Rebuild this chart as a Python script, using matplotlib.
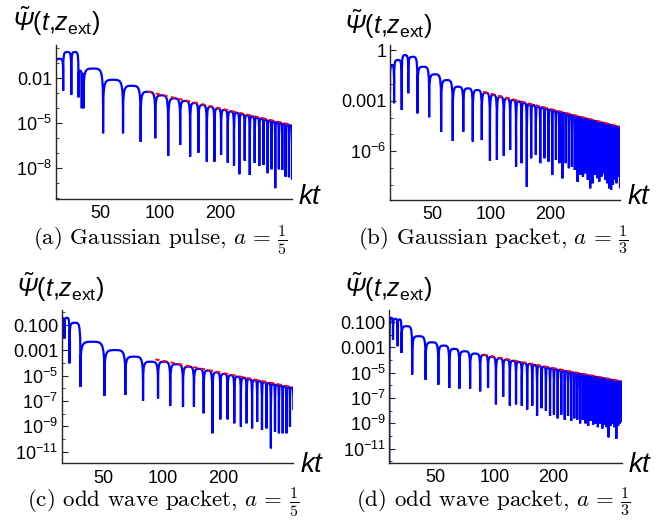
import numpy as np
import matplotlib
matplotlib.use("Agg")
import matplotlib.pyplot as plt
from matplotlib.path import Path
from matplotlib.patches import PathPatch
from matplotlib.ticker import FixedLocator, FixedFormatter, NullLocator, NullFormatter

plt.rcParams['font.family'] = ['Liberation Sans', 'DejaVu Sans']
plt.rcParams['mathtext.fontset'] = 'custom'
plt.rcParams['mathtext.rm'] = 'Liberation Sans'
plt.rcParams['mathtext.it'] = 'Liberation Sans:italic'
plt.rcParams['mathtext.bf'] = 'Liberation Sans:bold'
plt.rcParams['mathtext.sf'] = 'Liberation Sans:italic'  # used for the italic capital Psi

# dips of |psi| (kt position, log10 depth) and arch tops between dips (log10)

# (a) Gaussian pulse, a = 1/5
a_zeros = [29.8, 32.5, 35.7, 38.8, 40.3, 41.2, 51.6, 65.0, 79.7, 94.4, 109.7,
           126, 141.4, 155.6, 171.5, 187.3, 202.3, 218.6, 235, 250, 266, 282,
           298.6, 315, 331, 347, 363, 379, 395, 411, 427, 444, 460]
a_dips = [-1.56, -2.83, -3.1, -3.27, -4.0, -4.0, -5.67, -5.67, -6.23, -6.0, -7.18,
          -6.45, -7.22, -6.96, -7.56, -7.56, -7.11, -7.63, -7.83, -8.4, -7.49, -8.45,
          -7.63, -7.84, -7.78, -8.33, -8.07, -9.33, -8.07, -8.11, -8.56, -8.6, -8.78]
a_peaks = [-0.7, -0.25, -0.25, -1.5, -1.7, -1.35, -2.1, -2.5, -2.9, -3.14,
           -3.34, -3.51, -3.65, -3.78, -3.9, -4.01, -4.11, -4.21, -4.3, -4.38, -4.46,
           -4.54, -4.61, -4.68, -4.75, -4.81, -4.87, -4.92, -4.98, -5.03, -5.08, -5.13]
a_red_t = [87, 460]
a_red = [-2.90, -5.11]

# (b) Gaussian packet, a = 1/3
b_zeros = [30.5, 32.0, 35.0, 37.8, 42.1, 48.3, 55.6, 63.7, 72.1, 80.6, 89.6, 98.6, 107, 116,
           125, 134, 143, 152, 160, 169, 178, 187, 196, 205, 214, 223, 231, 240, 249, 258,
           267, 276, 285, 294, 302, 311, 320, 329, 338, 347, 356, 365, 373, 382, 391, 400,
           409, 418, 427, 436, 445, 454]
b_dips = [-2.4, -3.15, -3.55, -2.56, -3.75, -3.98, -4.83, -5.38, -4.83, -5.42, -5.33, -6.55, -6.5, -6.27,
          -5.92, -6.9, -6.7, -8.09, -6.41, -6.21, -6.7, -6.41, -6.6, -7.4, -6.5, -6.7, -7.6, -6.7,
          -7.0, -6.9, -7.1, -7.8, -7.4, -7.5, -7.3, -7.69, -8.19, -7.89, -7.4, -7.59, -7.79, -7.5,
          -7.3, -7.69, -7.89, -8.19, -8.28, -7.99, -7.69, -7.89, -7.5, -8.19]
b_peaks = [-0.89, -0.59, -0.30, -0.40, -0.99, -1.44, -1.78, -2.17, -2.27, -2.37, -2.53, -2.65, -2.76,
           -2.86, -2.95, -3.04, -3.12, -3.19, -3.26, -3.33, -3.39, -3.46, -3.52, -3.57, -3.63,
           -3.68, -3.72, -3.77, -3.82, -3.86, -3.91, -3.95, -3.99, -4.03, -4.06, -4.10, -4.14,
           -4.17, -4.21, -4.24, -4.27, -4.30, -4.33, -4.36, -4.39, -4.42, -4.45, -4.48, -4.50,
           -4.53, -4.56]
b_red_t = [91, 454]
b_red = [-2.47, -4.54]

# (c) odd wave packet, a = 1/5
c_zeros = [31, 32, 33.9, 38.5, 50.8, 64.7, 79.4, 94.4, 108.7, 126, 143, 160, 177, 194,
           211, 228, 246, 263, 280, 297, 314, 331, 348, 365, 382, 399, 417, 434, 451]
c_dips = [-14, -2.05, -4.03, -5.88, -6.61, -6.53, -6.98, -6.8, -7.4, -7.46, -7.46, -7.98,
          -9.56, -8.46, -8.46, -8.77, -9.04, -8.77, -9.17, -8.64, -9.3, -9.17, -10.75,
          -9.43, -9.56, -9.56, -9.56, -9.04, -7.72]
c_peaks = [-0.47, -0.43, -0.82, -2.32, -2.98, -3.5, -3.9, -3.9,
           -4.10, -4.29, -4.46, -4.60, -4.74, -4.86, -4.97, -5.08, -5.17, -5.26, -5.35,
           -5.43, -5.50, -5.58, -5.64, -5.71, -5.77, -5.83, -5.89, -5.94]
c_red_t = [91.5, 451]
c_red = [-3.71, -5.92]

# (d) odd wave packet, a = 1/3
d_zeros = [29.3, 30.6, 32.3, 33.8, 38.3, 44.8, 52.0, 59.1, 66.5, 75.4, 84.8,
           93, 102, 111, 120, 129, 138, 147, 156, 165, 174, 183, 192, 201, 210, 219, 228,
           237, 246, 255, 264, 273, 282, 291, 300, 309, 318, 327, 336, 345, 354, 363, 372,
           381, 390, 399, 408, 417, 426, 435, 444]
d_dips = [-14, -2.38, -2.91, -3.44, -5.15, -5.55, -5.94, -6.2, -6.25, -6.25, -6.47,
          -6.2, -7.5, -6.9, -7.6, -7.5, -7.6, -7.9, -7.6, -8.4, -7.8,
          -8.0, -8.4, -8.3, -8.6, -8.3, -8.7, -8.4, -8.8, -8.6, -8.7,
          -9.0, -8.7, -9.0, -9.2, -8.8, -9.1, -9.0, -9.3, -9.0, -9.4,
          -9.1, -9.3, -10.1, -9.2, -9.0, -9.3, -10.2, -9.2, -9.0, -8.9]
d_peaks = [-0.67, -0.75, -0.8, -1.33, -2.12, -2.6, -2.86, -3.12, -3.31, -3.49, -3.6,
           -3.74, -3.86, -3.96, -4.06, -4.15, -4.23, -4.31, -4.39, -4.46, -4.53, -4.59,
           -4.65, -4.71, -4.77, -4.82, -4.87, -4.92, -4.97, -5.01, -5.06, -5.10, -5.14,
           -5.18, -5.22, -5.26, -5.29, -5.33, -5.37, -5.40, -5.43, -5.46, -5.50, -5.53,
           -5.56, -5.59, -5.61, -5.64, -5.67, -5.70]
d_red_t = [88, 444]
d_red = [-3.57, -5.67]

x_ticks = [50, 100, 200]
x_labels = ['50', '100', '200']
yt_a = [1e-2, 1e-5, 1e-8]
yl_a = ['0.01', '$10^{-5}$', '$10^{-8}$']
yt_b = [1, 1e-3, 1e-6]
yl_b = ['1', '0.001', '$10^{-6}$']
yt_cd = [1e-1, 1e-3, 1e-5, 1e-7, 1e-9, 1e-11]
yl_cd = ['0.100', '0.001', '$10^{-5}$', '$10^{-7}$', '$10^{-9}$', '$10^{-11}$']

captions = ['(a) Gaussian pulse, $a\\,=\\,\\frac{1}{5}$',
            '(b) Gaussian packet, $a\\,=\\,\\frac{1}{3}$',
            '(c) odd wave packet, $a\\,=\\,\\frac{1}{5}$',
            '(d) odd wave packet, $a\\,=\\,\\frac{1}{3}$']

W, H = 666, 521
fig = plt.figure(figsize=(W / 100, H / 100), dpi=100)
fig.set_facecolor('white')


def arch_curve(zeros, dips, peaks):
    # each arch: vertical rise from a dip, flat top, vertical fall into the next dip
    verts = [(zeros[0], 10.0 ** dips[0])]
    codes = [Path.MOVETO]
    for i, p in enumerate(peaks):
        t0, t1 = zeros[i], zeros[i + 1]
        top = 10.0 ** p
        mid = (t0 * t1) ** 0.5
        verts += [(t0, top), (t0, top), (mid, top),
                  (t1, top), (t1, top), (t1, 10.0 ** dips[i + 1])]
        codes += [Path.CURVE4] * 6
    return Path(verts, codes)


panels = [
    # data, box in pixels (left, top, right, bottom), ylim exponents, ticks
    (a_zeros, a_dips, a_peaks, a_red_t, a_red, (55.7, 45, 292, 199), (-10.05, 0.22), yt_a, yl_a),
    (b_zeros, b_dips, b_peaks, b_red_t, b_red, (390, 45, 620, 200), (-8.88, 0.3), yt_b, yl_b),
    (c_zeros, c_dips, c_peaks, c_red_t, c_red, (61.7, 310, 293.3, 463.3), (-11.93, 0.19), yt_cd, yl_cd),
    (d_zeros, d_dips, d_peaks, d_red_t, d_red, (389.3, 310, 621.7, 462.7), (-12.1, -0.05), yt_cd, yl_cd),
]
psi_pos = [(12, 21), (344, 24), (16, 287), (344, 287)]
kt_pos = [(298, 197), (627, 197), (300, 465), (628, 465)]
cap_pos = [(160, 240), (493, 240), (163, 502), (493, 502)]

for k, (zeros, dips, peaks, red_t, red, box, ylim, yt, yl) in enumerate(panels):
    l, t, r, b = box
    ax = fig.add_axes([l / W, 1 - b / H, (r - l) / W, (b - t) / H])
    ax.set_xscale('log')
    ax.set_yscale('log')
    ax.set_xlim(zeros[0], zeros[-1])
    ax.set_ylim(10.0 ** ylim[0], 10.0 ** ylim[1])

    ax.add_patch(PathPatch(arch_curve(zeros, dips, peaks), fill=False,
                           edgecolor='#0000ff', lw=1.6, joinstyle='bevel',
                           capstyle='butt', zorder=2))
    ax.plot(red_t, [10.0 ** v for v in red], color='red', lw=1.4,
            ls=(0, (2.2, 1.8)), zorder=3)

    for s in ['top', 'right']:
        ax.spines[s].set_visible(False)
    for s in ['left', 'bottom']:
        ax.spines[s].set_color('0.15')
        ax.spines[s].set_linewidth(1.0)

    ax.xaxis.set_major_locator(FixedLocator(x_ticks))
    ax.xaxis.set_major_formatter(FixedFormatter(x_labels))
    ax.xaxis.set_minor_locator(NullLocator())
    ax.xaxis.set_minor_formatter(NullFormatter())
    ax.tick_params(axis='x', which='both', length=0, pad=4.5, labelsize=13)

    ax.yaxis.set_major_locator(FixedLocator(yt))
    ax.yaxis.set_major_formatter(FixedFormatter(yl))
    lo, hi = int(np.ceil(ylim[0])), int(np.floor(ylim[1]))
    ax.yaxis.set_minor_locator(FixedLocator([10.0 ** e for e in range(lo, hi + 1)]))
    ax.yaxis.set_minor_formatter(NullFormatter())
    ax.tick_params(axis='y', which='major', direction='in', length=4, width=0.8,
                   pad=2.5, labelsize=13, color='0.15')
    ax.tick_params(axis='y', which='minor', direction='in', length=2, width=0.6,
                   color='0.15')

    fig.text(psi_pos[k][0] / W, 1 - psi_pos[k][1] / H,
             r'$\tilde{\mathsf{\Psi}}(t{,}z_{\mathrm{ext}})$',
             fontsize=18, ha='left', va='center')
    fig.text(kt_pos[k][0] / W, 1 - kt_pos[k][1] / H, r'$kt$',
             fontsize=20, ha='left', va='center')
    fig.text(cap_pos[k][0] / W, 1 - cap_pos[k][1] / H, captions[k],
             fontfamily='cmr10', math_fontfamily='cm', fontsize=16.5,
             ha='center', va='center')

plt.savefig('out.png', dpi=100, facecolor='white')
